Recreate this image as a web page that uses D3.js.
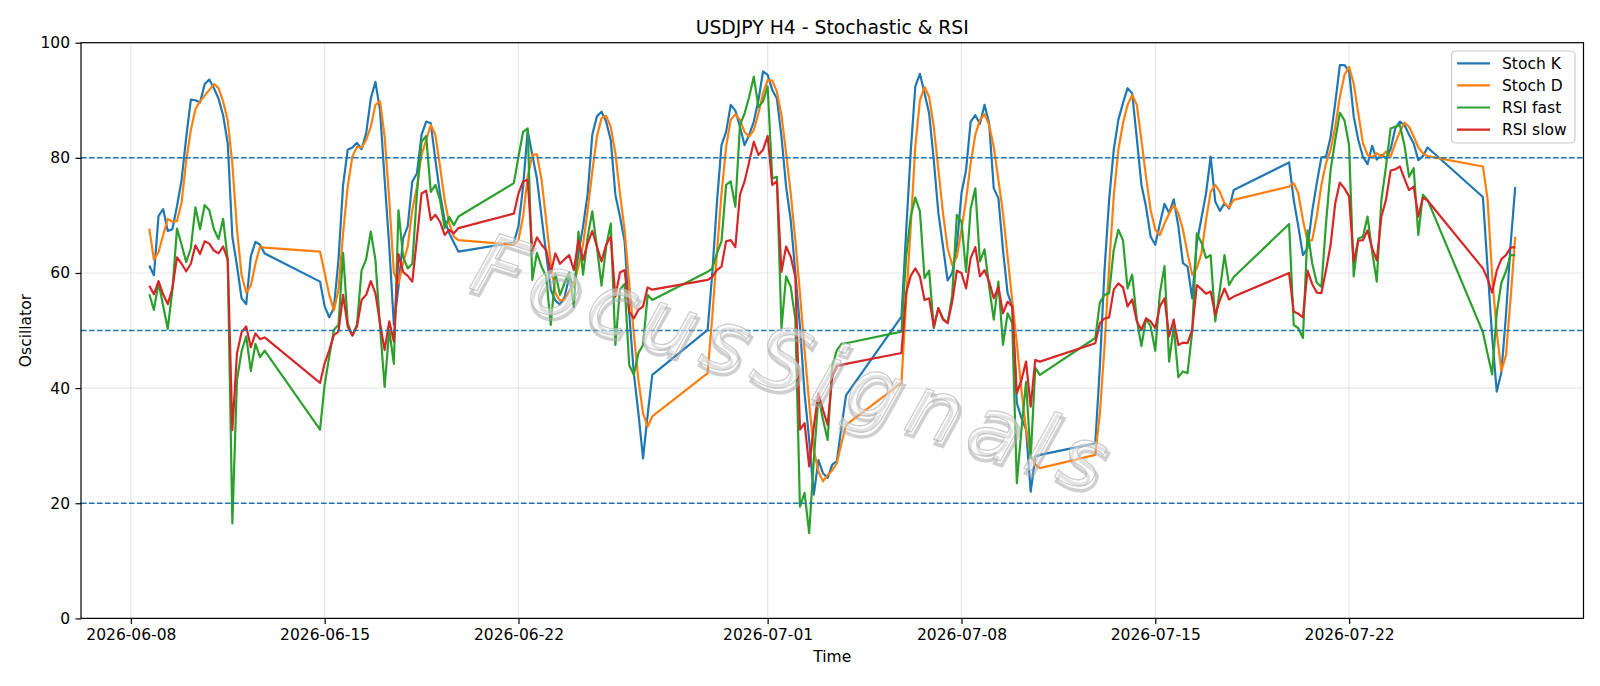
<!DOCTYPE html>
<html>
<head>
<meta charset="utf-8">
<title>USDJPY H4 - Stochastic & RSI</title>
<style>
  body { margin: 0; background: #fff; }
  svg text { font-family: "DejaVu Sans", sans-serif; fill: #000; }
  .tick text { font-size: 15.5px; }
  .tick line { stroke: #000; stroke-width: 1.2; }
  .grid line { stroke: #b0b0b0; stroke-opacity: 0.3; stroke-width: 1.2; }
  .level { stroke: #1f77b4; stroke-width: 1.5; stroke-dasharray: 5.6,2.4; }
  .series { fill: none; stroke-width: 2.2; stroke-linejoin: round; }
</style>
</head>
<body>
<div id="chart"></div>
<script src="https://d3js.org/d3.v7.min.js"></script>
<script>
// H4 trading sessions: first bar of each week and number of 4-hour bars
var sessionStarts = ["2026-06-08 16:00", "2026-06-14 20:00", "2026-06-21 20:00", "2026-06-28 20:00",
                     "2026-07-05 20:00", "2026-07-12 20:00", "2026-07-19 20:00", "2026-07-26 20:00"];
var sessionBars = [26, 31, 31, 31, 31, 31, 31, 8];

var stochK = [
  61.3, 59.6, 69.9, 71.1, 67.3, 67.6, 71.6, 76.2, 83.5, 90.1, 90.0, 89.6, 92.8, 93.6, 92.1, 90.3, 87.4, 82.5, 66.3, 61.3, 55.6, 54.6, 62.9, 65.4, 64.9, 63.4,
  58.5, 54.2, 52.3, 53.9, 62.3, 75.3, 81.4, 81.8, 82.6, 81.5, 84.3, 90.3, 93.2, 88.3, 76.2, 64.6, 51.0, 57.6, 66.0, 68.1, 75.9, 77.3, 84.0, 86.3, 86.0, 79.6, 73.8, 69.2, 66.9, 65.3, 63.7,
  65.3, 68.1, 75.0, 84.7, 80.5, 76.4, 69.8, 63.4, 57.1, 55.2, 54.5, 55.8, 59.4, 57.6, 63.4, 68.1, 73.8, 84.0, 87.2, 88.0, 86.3, 83.1, 73.6, 69.8, 65.5, 53.0, 42.6, 35.6, 27.8, 35.4, 42.3,
  50.1, 60.0, 72.1, 82.2, 84.5, 89.2, 88.2, 85.4, 82.2, 84.0, 86.3, 90.0, 95.0, 94.4, 91.8, 90.3, 83.7, 75.0, 69.2, 60.0, 50.7, 39.1, 31.0, 21.5, 27.5, 25.2, 24.4, 26.7, 27.3, 33.3, 38.8,
  52.4, 67.0, 81.0, 92.4, 94.6, 91.2, 87.7, 79.6, 70.4, 64.6, 58.7, 60.0, 64.6, 73.8, 77.9, 86.3, 87.4, 85.9, 89.2, 86.0, 74.7, 73.0, 64.0, 56.5, 54.2, 37.4, 34.8, 32.8, 22.0, 28.1, 28.4,
  30.4, 43.8, 60.5, 72.7, 81.4, 86.6, 89.5, 92.1, 91.2, 83.4, 75.3, 71.5, 66.3, 64.9, 68.6, 72.0, 70.4, 72.8, 68.1, 61.7, 61.1, 55.6, 65.2, 69.5, 73.8, 80.2, 72.4, 70.8, 72.1, 71.2, 74.4,
  79.2, 72.7, 68.1, 63.1, 64.3, 70.7, 75.6, 80.1, 80.2, 83.6, 89.5, 96.1, 96.1, 95.0, 87.2, 83.1, 80.2, 78.9, 82.1, 79.7, 80.5, 79.9, 81.5, 85.1, 86.3, 85.7, 84.0, 82.5, 79.6, 80.3, 81.8,
  73.2, 61.0, 49.0, 39.4, 42.7, 52.7, 64.9, 74.9
];
var stochD = [
  67.7, 62.3, 63.6, 66.6, 69.4, 68.9, 69.0, 72.2, 79.5, 84.8, 88.5, 89.8, 90.8, 91.8, 92.8, 92.1, 89.8, 86.5, 78.9, 67.6, 59.6, 56.6, 57.8, 61.6, 64.6, 64.4,
  63.7, 60.0, 56.2, 53.5, 57.1, 66.9, 75.0, 80.2, 81.9, 81.8, 83.1, 85.4, 89.2, 89.8, 83.7, 72.7, 60.0, 58.2, 61.7, 64.6, 70.9, 75.0, 80.5, 83.1, 85.7, 84.0, 78.5, 72.7, 68.6, 66.3, 65.7,
  64.9, 65.7, 69.8, 76.7, 80.5, 80.6, 76.2, 69.2, 61.7, 56.5, 55.2, 55.4, 56.8, 58.2, 61.1, 64.9, 70.9, 77.6, 83.7, 86.9, 87.3, 85.4, 80.8, 73.8, 67.5, 58.2, 49.5, 41.4, 35.6, 33.3, 35.1,
  42.6, 52.4, 63.4, 73.8, 81.9, 86.6, 87.6, 86.6, 84.5, 83.7, 84.8, 87.7, 91.2, 93.5, 93.4, 91.5, 87.4, 80.8, 73.8, 65.7, 56.5, 46.6, 37.4, 29.3, 25.5, 23.8, 24.9, 25.7, 27.0, 30.4, 33.6,
  40.9, 55.0, 68.0, 82.0, 90.0, 92.3, 90.6, 85.4, 77.9, 70.4, 64.3, 61.4, 62.8, 67.5, 72.7, 79.1, 84.0, 86.6, 87.6, 85.7, 81.9, 76.2, 70.4, 62.8, 55.3, 47.8, 39.7, 32.8, 28.4, 26.7, 26.1,
  28.4, 35.6, 47.2, 61.1, 73.3, 81.4, 86.0, 89.2, 90.9, 89.2, 83.1, 76.7, 70.9, 67.5, 66.6, 68.6, 70.3, 71.8, 70.4, 67.5, 63.4, 59.7, 60.8, 63.4, 69.2, 74.1, 75.3, 74.1, 72.1, 71.4, 72.7,
  75.0, 75.6, 73.8, 69.2, 65.5, 65.7, 69.8, 75.3, 79.1, 81.4, 85.4, 90.6, 94.4, 95.8, 92.9, 87.7, 82.5, 80.5, 80.1, 80.8, 80.2, 81.1, 80.2, 82.5, 84.5, 86.1, 85.4, 83.7, 81.8, 80.8, 80.3,
  78.5, 72.9, 59.6, 49.7, 43.0, 45.7, 55.6, 66.3
];
var rsiFast = [
  56.3, 53.6, 58.3, 54.3, 50.3, 57.0, 67.7, 64.9, 61.9, 64.3, 71.4, 67.6, 71.8, 70.9, 67.6, 65.9, 69.4, 62.3, 16.5, 41.4, 46.4, 49.0, 43.0, 47.7, 45.4, 46.5,
  32.8, 40.6, 45.5, 50.1, 51.0, 63.5, 51.3, 49.1, 51.0, 60.4, 62.4, 67.2, 62.3, 50.7, 40.2, 50.1, 44.2, 70.9, 62.8, 60.8, 61.6, 73.8, 82.8, 83.8, 74.1, 75.3, 72.7, 67.8, 69.7, 68.3, 69.8,
  75.6, 80.2, 84.5, 85.1, 58.8, 63.5, 61.1, 59.4, 51.0, 60.0, 56.2, 58.3, 60.1, 54.1, 67.2, 59.7, 66.3, 70.7, 64.5, 57.8, 64.6, 68.6, 47.5, 57.1, 58.1, 44.0, 42.3, 46.1, 47.5, 56.2, 55.3,
  60.2, 60.8, 63.4, 65.5, 75.3, 75.9, 71.5, 85.7, 87.7, 90.6, 94.1, 88.8, 89.8, 92.4, 76.4, 76.7, 50.4, 59.4, 57.6, 52.0, 19.4, 21.8, 14.8, 27.5, 38.5, 34.5, 31.0, 43.8, 46.6, 47.7, 47.8,
  49.8, 62.8, 69.8, 73.1, 70.7, 59.1, 60.4, 50.4, 53.9, 52.1, 51.3, 56.2, 70.1, 68.9, 60.2, 71.2, 74.7, 62.0, 64.1, 57.6, 51.9, 58.5, 47.5, 53.0, 51.3, 23.5, 32.8, 41.1, 27.8, 43.5, 42.3,
  48.7, 54.9, 56.2, 56.5, 64.0, 67.5, 65.7, 57.3, 59.7, 51.9, 47.3, 52.1, 50.7, 46.5, 56.5, 61.2, 44.6, 50.7, 41.9, 42.9, 42.6, 49.8, 66.9, 65.3, 62.6, 63.1, 51.6, 57.1, 63.1, 57.9, 59.3,
  68.5, 51.0, 50.4, 48.7, 67.4, 61.7, 58.3, 57.6, 68.6, 77.9, 83.1, 87.8, 86.5, 82.2, 59.4, 66.0, 66.3, 69.8, 63.7, 58.5, 72.7, 78.5, 85.1, 85.4, 85.7, 82.2, 76.7, 78.2, 66.6, 73.6, 72.7,
  49.7, 46.0, 42.4, 53.0, 58.3, 60.3, 63.1, 63.1
];
var rsiSlow = [
  57.8, 56.3, 58.6, 56.3, 54.6, 57.3, 62.7, 61.6, 60.3, 61.6, 64.8, 63.3, 65.5, 65.1, 63.9, 63.4, 64.6, 62.3, 32.7, 46.0, 49.7, 50.7, 47.1, 49.5, 48.5, 48.8,
  40.9, 44.3, 46.6, 49.2, 49.8, 56.2, 50.7, 49.2, 50.7, 55.3, 56.2, 58.6, 56.5, 51.3, 46.6, 51.6, 48.1, 63.3, 60.2, 59.5, 58.5, 66.0, 73.8, 74.3, 69.2, 70.1, 68.9, 66.6, 67.5, 66.9, 67.8,
  70.3, 73.8, 75.9, 76.2, 63.9, 66.2, 64.9, 64.0, 60.0, 63.4, 61.6, 62.4, 63.1, 60.5, 65.7, 62.3, 65.2, 67.3, 64.6, 62.0, 64.9, 66.3, 55.9, 60.1, 60.5, 53.3, 52.1, 53.6, 54.2, 57.5, 57.1,
  58.8, 59.3, 60.5, 61.1, 65.5, 65.7, 64.5, 73.6, 75.9, 79.3, 82.8, 80.5, 81.4, 83.8, 75.3, 75.9, 60.2, 64.6, 62.8, 59.4, 32.8, 33.9, 26.4, 33.3, 39.1, 36.2, 33.6, 42.0, 43.9, 44.0, 44.2,
  46.1, 56.5, 59.5, 60.8, 59.4, 55.3, 55.6, 50.7, 53.9, 51.9, 51.3, 55.0, 60.4, 60.0, 57.3, 62.6, 64.5, 59.4, 60.5, 58.5, 55.6, 57.6, 53.0, 55.0, 54.2, 39.1, 41.4, 44.6, 36.8, 44.9, 44.6,
  47.8, 51.3, 52.1, 52.3, 57.1, 58.2, 57.5, 54.2, 55.4, 51.6, 50.1, 52.1, 51.6, 50.4, 54.2, 55.6, 49.0, 51.9, 47.5, 47.9, 47.8, 50.1, 57.9, 57.2, 56.4, 56.8, 52.7, 55.3, 57.3, 55.4, 55.9,
  60.0, 53.3, 52.9, 52.3, 60.4, 58.1, 56.6, 56.5, 60.5, 64.9, 72.1, 75.7, 74.7, 73.3, 62.0, 65.6, 65.7, 67.4, 64.3, 62.2, 69.8, 72.7, 77.8, 78.0, 78.5, 76.4, 74.4, 75.0, 69.8, 73.1, 72.6,
  60.8, 59.0, 56.6, 60.4, 62.4, 63.1, 64.4, 64.5
];

var xTickDates = ["2026-06-08", "2026-06-15", "2026-06-22", "2026-07-01", "2026-07-08", "2026-07-15", "2026-07-22"];
var yTicks = [0, 20, 40, 60, 80, 100];
var levels = [80, 50, 20];

var seriesNames = ["Stoch K", "Stoch D", "RSI fast", "RSI slow"];
var seriesColors = ["#1f77b4", "#ff7f0e", "#2ca02c", "#d62728"];
var seriesValues = [stochK, stochD, rsiFast, rsiSlow];

// build the bar timestamps
var parseTime = d3.utcParse("%Y-%m-%d %H:%M");
var parseDay = d3.utcParse("%Y-%m-%d");
var times = [];
sessionStarts.forEach(function(s, i) {
  var t0 = parseTime(s);
  for (var j = 0; j < sessionBars[i]; j++) times.push(d3.utcHour.offset(t0, 4 * j));
});

var W = 1600, H = 686;
var margin = { top: 42.7, right: 16.5, bottom: 67.6, left: 81 };
var width = W - margin.left - margin.right;
var height = H - margin.top - margin.bottom;

var svg = d3.select("#chart").append("svg")
  .attr("width", W).attr("height", H);

var g = svg.append("g")
  .attr("transform", "translate(" + margin.left + "," + margin.top + ")");

// matplotlib-like 5% margins on x
var ext = d3.extent(times);
var pad = (ext[1] - ext[0]) * 0.05;
var x = d3.scaleUtc()
  .domain([new Date(+ext[0] - pad), new Date(+ext[1] + pad)])
  .range([0, width]);
var y = d3.scaleLinear().domain([0, 100]).range([height, 0]);

// grid
var grid = g.append("g").attr("class", "grid");
grid.selectAll(".gx").data(xTickDates).enter().append("line")
  .attr("x1", function(d) { return x(parseDay(d)); })
  .attr("x2", function(d) { return x(parseDay(d)); })
  .attr("y1", 0).attr("y2", height);
grid.selectAll(".gy").data(yTicks).enter().append("line")
  .attr("x1", 0).attr("x2", width)
  .attr("y1", function(d) { return y(d); })
  .attr("y2", function(d) { return y(d); });

// series lines
var line = d3.line()
  .x(function(d, i) { return x(times[i]); })
  .y(function(d) { return y(d); });

seriesValues.forEach(function(vals, i) {
  g.append("path")
    .attr("class", "series")
    .attr("stroke", seriesColors[i])
    .attr("d", line(vals));
});

// reference levels
g.selectAll(".level").data(levels).enter().append("line")
  .attr("class", "level")
  .attr("x1", 0).attr("x2", width)
  .attr("y1", function(d) { return y(d); })
  .attr("y2", function(d) { return y(d); });

// watermark (outlined text with a soft shadow)
var wm = g.append("g")
  .attr("transform", "translate(" + (790 - margin.left) + "," + (362 - margin.top) + ") rotate(18)");
wm.append("text")
  .attr("x", 3).attr("y", 4)
  .attr("text-anchor", "middle").attr("dominant-baseline", "central")
  .attr("textLength", 660).attr("lengthAdjust", "spacing")
  .style("font-size", "84px").style("font-style", "italic")
  .style("fill", "none").style("stroke", "#a8a8a8").style("stroke-opacity", 0.55).style("stroke-width", 3.5)
  .text("FocusSignals");
wm.append("text")
  .attr("text-anchor", "middle").attr("dominant-baseline", "central")
  .attr("textLength", 660).attr("lengthAdjust", "spacing")
  .style("font-size", "84px").style("font-style", "italic")
  .style("fill", "#fff").style("fill-opacity", 0.4)
  .style("stroke", "#b4b4b4").style("stroke-opacity", 0.7).style("stroke-width", 1.2)
  .text("FocusSignals");

// axes
var xAxis = d3.axisBottom(x)
  .tickValues(xTickDates.map(parseDay))
  .tickFormat(d3.utcFormat("%Y-%m-%d"))
  .tickSize(5.5).tickPadding(5.5);
g.append("g")
  .attr("transform", "translate(0," + height + ")")
  .call(xAxis)
  .call(function(a) { a.select(".domain").remove(); })
  .selectAll("text").attr("font-family", null).attr("font-size", null);

var yAxis = d3.axisLeft(y)
  .tickValues(yTicks)
  .tickFormat(function(d) { return d; })
  .tickSize(5.5).tickPadding(5.5);
g.append("g")
  .call(yAxis)
  .call(function(a) { a.select(".domain").remove(); })
  .selectAll("text").attr("font-family", null).attr("font-size", null);

// spines
g.append("rect")
  .attr("width", width).attr("height", height)
  .attr("fill", "none").attr("stroke", "#000").attr("stroke-width", 1.2);

// labels
svg.append("text")
  .attr("x", margin.left + width / 2).attr("y", 33.5)
  .attr("text-anchor", "middle")
  .style("font-size", "18.8px")
  .text("USDJPY H4 - Stochastic & RSI");

svg.append("text")
  .attr("x", margin.left + width / 2).attr("y", 662)
  .attr("text-anchor", "middle")
  .style("font-size", "15.5px")
  .text("Time");

svg.append("text")
  .attr("transform", "translate(31," + (margin.top + height / 2) + ") rotate(-90)")
  .attr("text-anchor", "middle")
  .style("font-size", "15.5px")
  .text("Oscillator");

// legend
var legend = svg.append("g").attr("transform", "translate(1451.5,51)");
legend.append("rect")
  .attr("width", 123.5).attr("height", 92).attr("rx", 4)
  .attr("fill", "#fff").attr("fill-opacity", 0.8)
  .attr("stroke", "#cccccc").attr("stroke-width", 1.2);

var items = legend.selectAll(".item").data(seriesNames).enter().append("g")
  .attr("transform", function(d, i) { return "translate(0," + (12.3 + i * 22.1) + ")"; });
items.append("line")
  .attr("x1", 5.5).attr("x2", 38.5)
  .attr("stroke", function(d, i) { return seriesColors[i]; })
  .attr("stroke-width", 2.2);
items.append("text")
  .attr("x", 50.5).attr("dy", "0.35em")
  .style("font-size", "15.5px")
  .text(function(d) { return d; });
</script>
</body>
</html>
